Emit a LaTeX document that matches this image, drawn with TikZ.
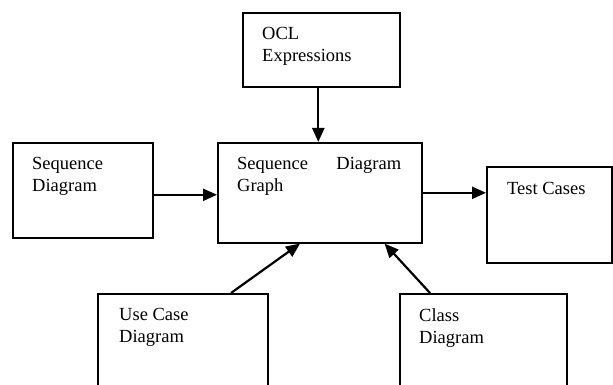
\documentclass[tikz,border=0pt]{standalone}
\usepackage{fontspec}
\setmainfont{Liberation Serif}
\usepackage{tikz}
\usetikzlibrary{arrows.meta,positioning}

\begin{document}
\begin{tikzpicture}[x=1pt, y=-1pt,
    box/.style={draw, line width=1.6pt, rectangle, inner sep=0pt, anchor=north west},
    txt/.style={inner sep=0pt, anchor=north west, align=left, font=\fontsize{18.5}{22}\selectfont},
    flow/.style={line width=2.2pt, -{Triangle[length=14pt,width=12pt]}}]
          \clip (0,0) rectangle (613,385);

          % boxes
          \node[box, minimum width=157pt, minimum height=74pt] (ocl) at (242,12) {};
          \node[box, minimum width=140pt, minimum height=95pt] (seqd) at (12,142) {};
          \node[box, minimum width=204pt, minimum height=100pt] (sdg) at (217,142) {};
          \node[box, minimum width=125pt, minimum height=96pt] (tc) at (486,166) {};
          \node[box, minimum width=170pt, minimum height=120pt] (uc) at (97,293) {};
          \node[box, minimum width=167pt, minimum height=120pt] (cd) at (399,293) {};

          % labels
          \node[txt] (ocltxt) at ([shift={(20pt,-15pt)}]ocl.north west) {OCL\\Expressions};
          \node[txt] (seqdtxt) at ([shift={(20pt,-15pt)}]seqd.north west) {Sequence\\Diagram};
          \node[txt, text width=164pt] (sdgtxt) at ([shift={(20pt,-15pt)}]sdg.north west) {Sequence\hfill Diagram\\Graph};
          \node[txt] (tctxt) at ([shift={(21pt,-16pt)}]tc.north west) {Test Cases};
          \node[txt] (uctxt) at ([shift={(22pt,-15pt)}]uc.north west) {Use Case\\Diagram};
          \node[txt] (cdtxt) at ([shift={(20pt,-15pt)}]cd.north west) {Class\\Diagram};

          % arrows
          \draw[flow] ([xshift=-3pt]ocl.south) -- ([xshift=-3pt]ocl.south |- sdg.north);
          \draw[flow] ([yshift=-4.5pt]seqd.east) -- ([yshift=-4.5pt]seqd.east -| sdg.west);
          \draw[flow] (sdg.east) -- (sdg.east -| tc.west);
          \draw[flow] ([xshift=134pt]uc.north west) -- ([xshift=83pt]sdg.south west);
          \draw[flow] ([xshift=31pt]cd.north west) -- ([xshift=-38pt]sdg.south east);
        \end{tikzpicture}
\end{document}
